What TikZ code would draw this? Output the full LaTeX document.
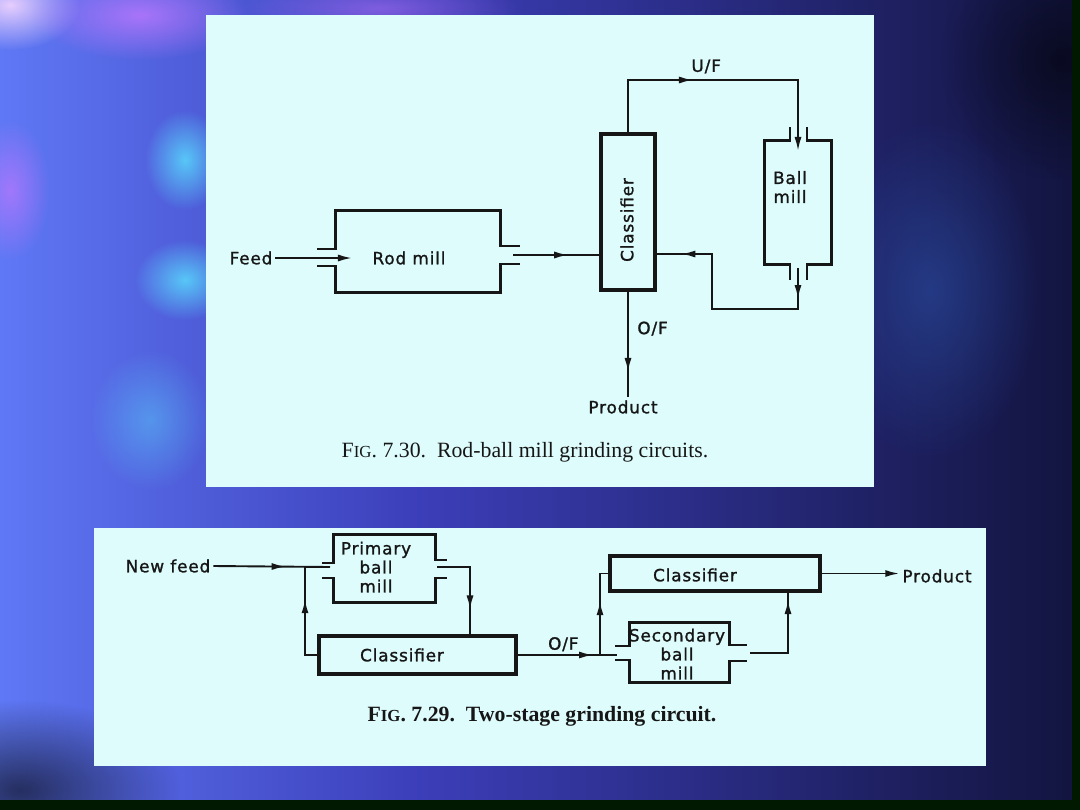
\documentclass[tikz,border=0pt]{standalone}
\usepackage{fontspec}
\setmainfont{Liberation Serif}
\newfontfamily\diagfont{DejaVu Sans}[LetterSpace=5, FakeBold=1.2]
\usetikzlibrary{positioning, arrows.meta, calc, fit, decorations.markings, fadings}

\definecolor{panelcyan}{RGB}{222,252,252}
\definecolor{ink}{RGB}{22,22,22}
\definecolor{bgleft}{RGB}{95,120,245}
\definecolor{bgmid}{RGB}{60,62,185}
\definecolor{bgright}{RGB}{18,20,62}
\definecolor{glowcyan}{RGB}{90,225,255}
\definecolor{glowviolet}{RGB}{190,120,255}
\definecolor{glowpink}{RGB}{245,215,255}
\definecolor{glownavy}{RGB}{40,70,150}
\tikzfading[name=softglow, inner color=transparent!0, outer color=transparent!100]

\begin{document}
\begin{tikzpicture}[
  x=0.025cm, y=-0.025cm,
  panel/.style={fill=panelcyan, draw=none},
  glow/.style={fill=#1, path fading=softglow},
  wall/.style={draw=ink, line width=2.1pt},
  unit/.style={draw=ink, line width=2.3pt, inner sep=0pt},
  body/.style={inner sep=0pt},
  flow/.style={draw=ink, line width=1.35pt},
  tip/.style={-{Latex[length=10pt, width=5pt]}},
  midarr/.style={postaction={decorate, decoration={markings,
      mark=at position #1 with {\arrow{Latex[length=10pt, width=5pt]}}}}},
  txt/.style={text=ink, font=\diagfont\fontsize{12}{13.5}\selectfont, inner sep=2pt, align=center},
  figcap/.style={text=ink, font=\fontsize{15.5}{18}\selectfont, inner sep=0pt},
]
\useasboundingbox (0,0) rectangle (1080,810);

% --- Slide background ---
\shade[left color=bgleft, right color=bgmid] (0,0) rectangle (420,810);
\shade[left color=bgmid, right color=bgright] (420,0) rectangle (1080,810);
\fill[glow=glowpink, fill opacity=0.9] (10,5) ellipse (70 and 45);
\fill[glow=glowviolet, fill opacity=0.8] (140,15) ellipse (110 and 45);
\fill[glow=glowviolet, fill opacity=0.5] (380,8) ellipse (140 and 30);
\fill[glow=glowviolet, fill opacity=0.7] (10,190) ellipse (40 and 70);
\fill[glow=glowcyan, fill opacity=0.8] (185,160) ellipse (40 and 50);
\fill[glow=glowcyan, fill opacity=0.8] (185,280) ellipse (50 and 40);
\fill[glow=glowcyan, fill opacity=0.4] (150,420) ellipse (60 and 70);
\fill[glow=glownavy, fill opacity=0.7] (930,290) ellipse (110 and 170);
\fill[glow=black, fill opacity=0.6] (20,790) ellipse (160 and 90);
\fill[glow=black, fill opacity=0.5] (1060,60) ellipse (120 and 120);
\fill[black!90!green] (1072,0) rectangle (1080,810);
\fill[black!90!green] (0,800) rectangle (1080,810);

% --- Panels ---
\fill[panel] (206,15) rectangle (874,487);
\fill[panel] (94,528) rectangle (986,766);

% ================= Fig. 7.30 =================
% --- Main nodes ---
\node[body, fit={(336,211) (500,292)}] (rod) {};
\node[unit, fit={(601,134) (655,290)}] (cls) {};
\node[body, fit={(765,141) (831,264)}] (ball) {};

\node[txt] (feed) at (251,258) {Feed};
\node[txt] at (409,258) {Rod mill};
\node[txt, rotate=90] at (627,220) {Classifier};
\node[txt] at (790,187) {Ball\\mill};
\node[txt] (prod) at (623,407) {Product};

% --- Mill walls ---
\draw[wall] (317,249) -| (rod.north west) -- (rod.north east) |- (520,246);
\draw[wall] (317,266) -| (rod.south west) -- (rod.south east) |- (520,264);
\draw[wall] (790,127) |- (ball.north west) -- (ball.south west) -| (790,280);
\draw[wall] (807,127) |- (ball.north east) -- (ball.south east) -| (807,280);

\coordinate (rodin)  at (352,258);
\coordinate (rodout) at (513,255);
\coordinate (ufc)    at (798,80);
\coordinate (ballin) at (798,151);
\coordinate (ballout) at (798,268);
\coordinate (retc)   at (712,309);
\coordinate (clsret) at (655,254);

% --- Arrows ---
\draw[flow, tip] (feed.east) -- (rodin);
\draw[flow, midarr=0.64] (rodout) -- (cls.west |- rodout);
\draw[flow, tip, midarr=0.40] (cls.north) |- node[txt, above=2pt, pos=0.73] {U/F} (ufc) -- (ballin);
\draw[flow, midarr=0.13, midarr=0.89] (ballout) |- (retc) |- (clsret);
\draw[flow, midarr=0.76] (cls.south) -- node[txt, right=4pt, pos=0.35] {O/F} (cls.south |- prod.north);

\node[figcap] at (525,452) {F{\fontsize{12}{14}\selectfont IG}. 7.30.\ \ Rod-ball mill grinding circuits.};

% ================= Fig. 7.29 =================
% --- Main nodes ---
\node[body, fit={(334,535) (435,602)}] (pbm) {};
\node[unit, fit={(319,636) (516,674)}] (cls1) {};
\node[unit, fit={(610,556) (820,591)}] (cls2) {};
\node[body, fit={(630,623) (729,682)}] (sbm) {};

\node[txt] (newfeed) at (168,566) {New feed};
\node[txt] at (376,567) {Primary\\ball\\mill};
\node[txt] at (402,655) {Classifier};
\node[txt] at (695,575) {Classifier};
\node[txt] at (677,654) {Secondary\\ball\\mill};
\node[txt] (prod2) at (937,576) {Product};

% --- Mill walls ---
\draw[wall] (322,563) -| (pbm.north west) -- (pbm.north east) |- (447,560);
\draw[wall] (322,578) -| (pbm.south west) -- (pbm.south east) |- (447,578);
\draw[wall] (615,646) -| (sbm.north west) -- (sbm.north east) |- (747,645);
\draw[wall] (615,660) -| (sbm.south west) -- (sbm.south east) |- (747,661);

\coordinate (pbin)  at (330,567);
\coordinate (pbout) at (437,567);
\coordinate (jn1)   at (305,567);
\coordinate (c1top) at (470,636);
\coordinate (sbin)  at (617,655);
\coordinate (jn2)   at (600,655);
\coordinate (sbout) at (750,653);
\coordinate (c2bot) at (788,591);

% --- Arrows ---
\draw[flow, midarr=0.62] (newfeed.east) -- (pbin);
\draw[flow, midarr=0.68] (cls1.west) -| (jn1);
\draw[flow, midarr=0.74] (pbout) -| (c1top);
\draw[flow, midarr=0.76] (cls1.east) -- node[txt, above, pos=0.46] {O/F} (sbin);
\draw[flow, midarr=0.60] (jn2) |- (cls2.west);
\draw[flow, midarr=0.91] (sbout) -| (c2bot);
\draw[flow, tip] (cls2.east) -- (cls2.east -| prod2.west);

\node[figcap, font=\bfseries\fontsize{15.5}{18}\selectfont] at (542,716) {F{\fontsize{12}{14}\selectfont IG}. 7.29.\ \ Two-stage grinding circuit.};

\end{tikzpicture}
\end{document}
